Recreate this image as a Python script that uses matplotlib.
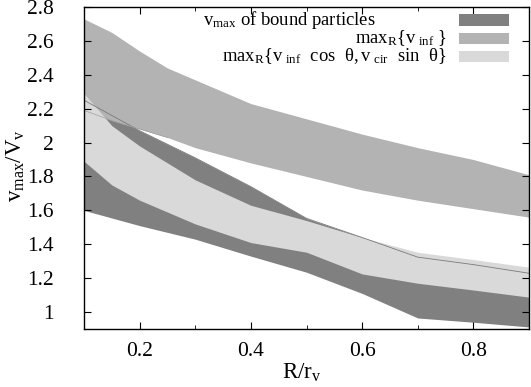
import matplotlib
matplotlib.use('Agg')
import matplotlib.pyplot as plt
from matplotlib.patches import Rectangle
from matplotlib.ticker import MultipleLocator, FormatStrFormatter

plt.rcParams['font.family'] = ['Liberation Serif', 'DejaVu Serif']
plt.rcParams['mathtext.fontset'] = 'custom'
plt.rcParams['mathtext.rm'] = 'Liberation Serif'
plt.rcParams['mathtext.it'] = 'Liberation Serif'

# R/r_v sample points
x = [0.1, 0.15, 0.2, 0.25, 0.3, 0.4, 0.5, 0.6, 0.7, 0.8, 0.9]

# v_max of bound particles
bound_lo = [1.60, 1.555, 1.51, 1.47, 1.43, 1.33, 1.235, 1.11, 0.965, 0.94, 0.912]
bound_hi = [2.25, 2.16, 2.07, 1.99, 1.91, 1.74, 1.553, 1.44, 1.324, 1.28, 1.229]
# max_R{v_inf}
vinf_lo = [2.19, 2.13, 2.08, 2.03, 1.97, 1.88, 1.80, 1.72, 1.66, 1.61, 1.56]
vinf_hi = [2.73, 2.65, 2.54, 2.44, 2.37, 2.23, 2.14, 2.05, 1.97, 1.90, 1.81]
# max_R{v_inf cos, v_cir sin}
proj_lo = [1.89, 1.75, 1.66, 1.59, 1.52, 1.41, 1.353, 1.225, 1.17, 1.13, 1.088]
proj_hi = [2.29, 2.10, 1.98, 1.88, 1.78, 1.63, 1.54, 1.44, 1.353, 1.31, 1.265]

labels = [r'$\mathrm{v_{max}}$ of bound particles',
          r'$\mathrm{max_R\{v_{\ inf}\ \}}$',
          r'$\mathrm{max_R\{v_{\ inf}\ \ cos\ \ \theta,v_{\ cir}\ \ sin\ \ \theta\}}$']
colors = ['#808080', '#b3b3b3', '#d9d9d9']

fig = plt.figure(figsize=(5.31, 3.87), dpi=100)
ax = fig.add_axes([84/531, 1-329/387, 445/531, 322/387])

ax.fill_between(x, bound_lo, bound_hi, color=colors[0], lw=0)
ax.fill_between(x, vinf_lo, vinf_hi, color=colors[1], lw=0)
ax.fill_between(x, proj_lo, proj_hi, color=colors[2], lw=0)
# faint edges showing through, like the original render
ax.plot(x, bound_hi, color='#7a7a7a', lw=0.6)
ax.plot(x[:4], vinf_lo[:4], color='#a0a0a0', lw=0.5)

ax.set_xlim(0.1, 0.9)
ax.set_ylim(0.9, 2.8)
ax.xaxis.set_major_locator(MultipleLocator(0.2))
ax.xaxis.set_minor_locator(MultipleLocator(0.1))
ax.yaxis.set_major_locator(MultipleLocator(0.2))
ax.yaxis.set_major_formatter(FormatStrFormatter('%g'))
ax.xaxis.set_major_formatter(FormatStrFormatter('%g'))
ax.tick_params(which='both', direction='in', top=True, right=True, labelsize=15.5)
ax.tick_params(axis='x', which='major', length=5, pad=9)
ax.tick_params(axis='x', which='minor', length=3)
ax.tick_params(axis='y', which='major', length=5, pad=22)
for s in ax.spines.values():
    s.set_linewidth(1.0)

ax.set_xlabel(r'$\mathrm{R/r_v}$', fontsize=16.5)
ax.xaxis.set_label_coords((302-84)/445, (329-362)/322)
ax.set_ylabel(r'$\mathrm{v_{max}/V_v}$', fontsize=16.5)
ax.yaxis.set_label_coords((27-84)/445, (329-166)/322)

# key box, gnuplot style
rows_y = [20, 38, 56]
for i in range(3):
    ya = (329 - rows_y[i]) / 322
    ax.add_patch(Rectangle(((459-84)/445, ya - 5.5/322), 50/445, 11/322,
                           transform=ax.transAxes, color=colors[i], lw=0, zorder=5))
    if i == 0:
        ax.text((203-84)/445, ya, labels[i], transform=ax.transAxes,
                ha='left', va='center', fontsize=13.4, zorder=6)
    else:
        ax.text((447-84)/445, ya, labels[i], transform=ax.transAxes,
                ha='right', va='center', fontsize=13.4, zorder=6)

fig.savefig('out.png', dpi=100)
